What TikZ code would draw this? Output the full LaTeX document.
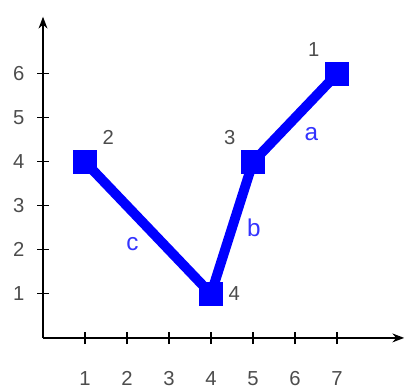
\documentclass[tikz,border=0pt]{standalone}
\usepackage{fontspec}
\setmainfont{Liberation Sans}
\usetikzlibrary{arrows.meta, positioning}

\begin{document}
\begin{tikzpicture}[
        x=1.05cm, y=1.1cm,
        vertex/.style={fill=blue, rectangle, minimum size=0.62cm, inner sep=0pt,
            label distance=-3pt},
        axis/.style={-Stealth, line width=1.2pt},
        edge/.style={blue, line width=7pt},
        elabel/.style={text=blue!80, font=\LARGE},
        nlabel/.style={text=gray!60!black, font=\Large}
    ]
        \useasboundingbox (-1.024,-1.227) rectangle (8.69,7.68);
        \coordinate (o) at (0,0);
        \draw[axis] (o) -- (8.6,0) coordinate (xend);
        \draw[axis] (o) -- (0,7.3) coordinate (yend);
        \foreach \i in {1,...,7} {
            \draw[thick] (\i,-0.14) -- (\i,0.14);
            \node[nlabel] (x\i) at (\i,-0.92) {\i};
        }
        \foreach \j in {1,...,6} {
            \draw[thick] (-0.14,\j) -- (0.14,\j);
            \node[nlabel] (y\j) at (-0.58,\j) {\j};
        }
        \node[vertex, label={[nlabel]45:2}] (n2) at (1,4) {};
        \node[vertex, label={[nlabel]135:3}] (n3) at (5,4) {};
        \node[vertex, label={[nlabel]135:1}] (n1) at (7,6) {};
        \node[vertex, label={[nlabel]0:4}] (n4) at (4,1) {};
        \draw[edge] (n2.center) -- node[elabel, below left=0pt] (c) {c} (n4.center);
        \draw[edge] (n4.center) -- node[elabel, right=4pt] (b) {b} (n3.center);
        \draw[edge] (n3.center) -- node[elabel, below right=0pt] (a) {a} (n1.center);
    \end{tikzpicture}
\end{document}
